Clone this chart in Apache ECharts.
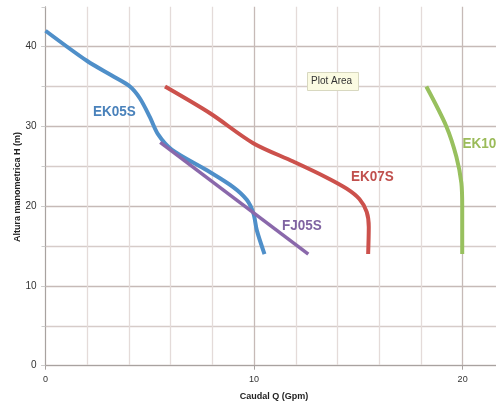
<!DOCTYPE html>
<html>
<head>
<meta charset="utf-8">
<script src="https://cdn.jsdelivr.net/npm/echarts@6/dist/echarts.min.js"></script>
<style>html,body{margin:0;padding:0;background:#fff}#c{width:496px;height:403px}</style>
</head>
<body>
<div id="c"></div>
<script>
// Data (Caudal Q [Gpm], Altura H [m])
var ek05s = [[0,42],[2,38.2],[3.3,36.2],[4.05,35],[4.53,33.5],[5.0,31.2],[5.4,29.0],[6.05,27.1],[7.74,24.5],[9.0,22.4],[9.65,20.8],[9.97,19.1],[10.13,17],[10.5,14]];
var ek07s = [[5.73,35],[7.89,31.65],[9.96,27.9],[11.88,25.6],[13.4,23.7],[14.44,22.2],[15.05,20.9],[15.4,19.3],[15.5,17.4],[15.47,14]];
var fj05s = [[5.5,28],[12.6,14]];
var ek10s = [[18.26,35],[19.22,30],[19.7,26.2],[19.94,22.9],[19.98,19.9],[19.98,14]];
var seriesNames = ['EK05S','EK07S','FJ05S','EK10S'];
var xTickLabels = [0,10,20];
var yTickLabels = [0,10,20,30,40];

var major = '#c6bab7', minor = '#e4dbd9', minorH = '#d6ccc9', tr = 'rgba(0,0,0,0)';
var chart = echarts.init(document.getElementById('c'));
var font = 'Liberation Sans';
function lbl(text, x, y, color) {
  return {type:'text', x:x, y:y, z:100, scaleX:0.9, originX:0, originY:0,
    style:{text:text, font:'bold 15px "'+font+'"', fill:color, textVerticalAlign:'middle'}};
}
chart.setOption({
  backgroundColor:'#fff',
  animation:false,
  grid:{left:45.5, right:0, top:6.8, bottom:37.3},
  xAxis:[
    {type:'value', min:0, max:21.6, interval:10,
     axisLine:{lineStyle:{color:'#a8a2a0', width:1}}, axisTick:{show:true, length:4, lineStyle:{color:'#a8a2a0'}},
     axisLabel:{color:'#333', fontSize:9, fontFamily:font, margin:9, showMaxLabel:false,
       formatter:function(v){return xTickLabels.indexOf(v)>=0? String(v):'';}},
     splitLine:{show:true, lineStyle:{color:[major,major,major,tr], width:1.3}}},
    {type:'value', min:0, max:21.6, interval:2, show:true,
     axisLine:{show:false}, axisTick:{show:false}, axisLabel:{show:false},
     splitLine:{show:true, lineStyle:{color:[tr,minor,minor,minor,minor,tr,minor,minor,minor,minor,tr,tr], width:1.3}}}
  ],
  yAxis:[
    {type:'value', min:0, max:45, interval:10,
     axisLine:{show:true, lineStyle:{color:'#a8a2a0', width:1}}, axisTick:{show:true, length:4, lineStyle:{color:'#a8a2a0'}},
     axisLabel:{color:'#333', fontSize:10, fontFamily:font, margin:9, showMaxLabel:false,
       formatter:function(v){return yTickLabels.indexOf(v)>=0? String(v):'';}},
     splitLine:{show:true, lineStyle:{color:[major,major,major,major,major,tr], width:1.3}}},
    {type:'value', min:0, max:45, interval:5, position:'left',
     axisLine:{show:false}, axisTick:{show:true, length:4, lineStyle:{color:'#ccc'}}, axisLabel:{show:false},
     splitLine:{show:true, lineStyle:{color:[tr,minorH,tr,minorH,tr,minorH,tr,minorH,tr,tr], width:1.3}}}
  ],
  series:[
    {name:seriesNames[0], type:'line', data:ek05s, smooth:0.3, showSymbol:false, lineStyle:{color:'#4f8fc9', width:4}},
    {name:seriesNames[1], type:'line', data:ek07s, smooth:0.3, showSymbol:false, lineStyle:{color:'#cc514c', width:4}},
    {name:seriesNames[2], type:'line', data:fj05s, smooth:false, showSymbol:false, lineStyle:{color:'#8a68ab', width:3.5}},
    {name:seriesNames[3], type:'line', data:ek10s, smooth:0.3, showSymbol:false, lineStyle:{color:'#98c05e', width:4}}
  ],
  graphic:[
    lbl(seriesNames[0], 93, 111.5, '#4a82bb'),
    lbl(seriesNames[1], 351, 177, '#c0504d'),
    lbl(seriesNames[2], 282, 225.5, '#8064a2'),
    lbl(seriesNames[3], 462.5, 143.5, '#9bbb59'),
    {type:'rect', z:100, shape:{x:307.5, y:72.5, width:51, height:18}, style:{fill:'#fbfbe2', stroke:'#d8d8c0', lineWidth:1}},
    {type:'text', z:101, x:311, y:81.5, style:{text:'Plot Area', font:'10px "'+font+'"', fill:'#333', textVerticalAlign:'middle'}},
    {type:'text', x:18, y:187, rotation:Math.PI/2, originX:0, originY:0,
     style:{text:'Altura manometrica H (m)', font:'bold 9px "'+font+'"', fill:'#222', textAlign:'center', textVerticalAlign:'middle'}},
    {type:'text', x:274, y:397, style:{text:'Caudal Q (Gpm)', font:'bold 9px "'+font+'"', fill:'#222', textAlign:'center', textVerticalAlign:'middle'}}
  ]
});
</script>
</body>
</html>
